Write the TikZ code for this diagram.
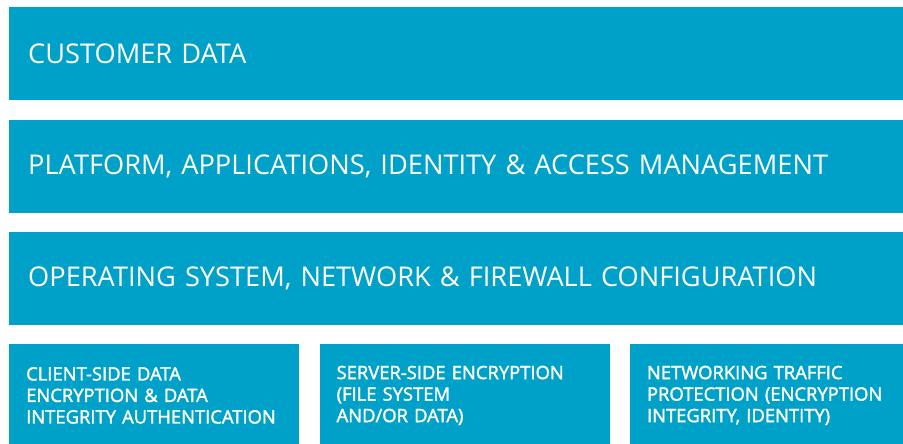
\documentclass[tikz,border=0pt]{standalone}
\usepackage{fontspec}
\setmainfont{Open Sans}
\newfontfamily\medfont[FakeBold=1.8]{Open Sans}
\usetikzlibrary{positioning}
\definecolor{awsblue}{RGB}{0,161,201}

\begin{document}
\begin{tikzpicture}[x=1pt, y=-1pt,
  layer/.style={fill=awsblue, text=white, minimum width=894pt, minimum height=93pt,
    inner xsep=19pt, text width=856pt, align=left,
    font=\fontsize{27.2}{32}\selectfont},
  part/.style={fill=awsblue, text=white, minimum width=290pt, minimum height=102pt,
    inner xsep=17pt, text width=256pt, align=left,
    font=\medfont\fontsize{18.4}{21.5}\selectfont}]

\useasboundingbox (0,0) rectangle (903,444);

% Stacked layers of shared responsibility
\node[layer, anchor=north west] (data) at (9,7) {CUSTOMER DATA};
\node[layer, below right=19pt and 0pt of data.south west] (platform)
  {PLATFORM, APPLICATIONS, IDENTITY \& ACCESS MANAGEMENT};
\node[layer, below right=19pt and 0pt of platform.south west] (os)
  {OPERATING SYSTEM, NETWORK \& FIREWALL CONFIGURATION};

% Bottom row, three boxes side by side
\node[part, below right=19pt and 0pt of os.south west] (client)
  {CLIENT-SIDE DATA\\ENCRYPTION \& DATA\\INTEGRITY AUTHENTICATION};
\node[part, right=20pt of client] (server)
  {SERVER-SIDE ENCRYPTION\\(FILE SYSTEM\\AND/OR DATA)};
\node[part, right=20pt of server] (traffic)
  {NETWORKING TRAFFIC\\PROTECTION (ENCRYPTION\\INTEGRITY, IDENTITY)};

\end{tikzpicture}
\end{document}
